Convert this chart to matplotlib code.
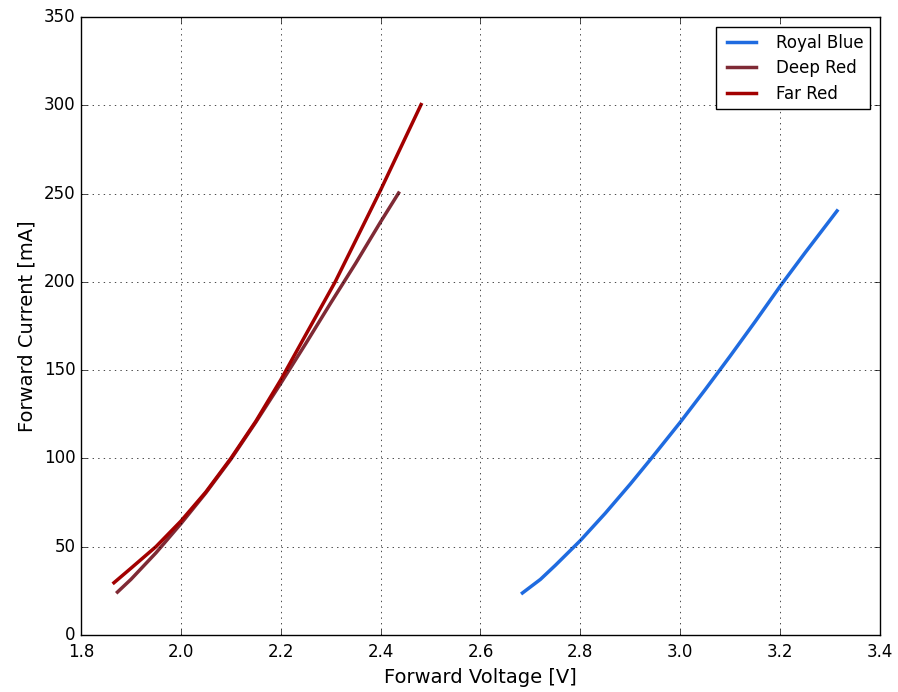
import numpy as np
import matplotlib
matplotlib.use('Agg')
import matplotlib.pyplot as plt

# values
blue_v = [2.684, 2.72, 2.75, 2.8, 2.85, 2.9, 2.942, 3.0, 3.05, 3.079, 3.1, 3.15, 3.2, 3.25, 3.3, 3.314]
blue_i = [23.8, 31.5, 39.5, 53.5, 69, 85.5, 100, 120.5, 139, 150, 158, 177.5, 197.5, 216.5, 235, 240.2]

deep_v = [1.873, 1.9, 1.95, 2.0, 2.05, 2.1, 2.15, 2.2, 2.25, 2.3, 2.35, 2.4, 2.436]
deep_i = [24.3, 31.5, 46.5, 63, 80.5, 99.5, 120.5, 142.5, 165, 188, 210.5, 234, 250.3]

far_v = [1.866, 1.9, 1.95, 2.0, 2.05, 2.1, 2.15, 2.2, 2.25, 2.309, 2.35, 2.4, 2.45, 2.481]
far_i = [29.6, 37.8, 50, 64.5, 81, 100, 121, 144.5, 170, 200, 223.4, 252, 281.9, 300.4]

plt.style.use('classic')
fig = plt.figure(figsize=(8.98, 6.92), dpi=100, facecolor='white')
ax = fig.add_axes([81/898, 57/692, 799/898, 618/692])

ax.plot(blue_v, blue_i, color='#1f6be0', lw=2.5, label='Royal Blue')
ax.plot(deep_v, deep_i, color='#7f2a35', lw=2.5, label='Deep Red')
ax.plot(far_v, far_i, color='#a30000', lw=2.5, label='Far Red')

ax.set_xlim(1.8, 3.4)
ax.set_ylim(0, 350)
ax.set_xticks(np.arange(1.8, 3.41, 0.2))
ax.set_yticks(np.arange(0, 351, 50))
ax.tick_params(axis='x', pad=6)
ax.grid(True)
ax.set_xlabel('Forward Voltage [V]', fontsize=14)
ax.set_ylabel('Forward Current [mA]', fontsize=14)
ax.legend(loc='upper right', fontsize=12, labelspacing=0.45,
          handlelength=2.3, borderpad=0.4, handletextpad=0.9,
          borderaxespad=0.6)

fig.savefig('out.png', dpi=100, facecolor='white')
